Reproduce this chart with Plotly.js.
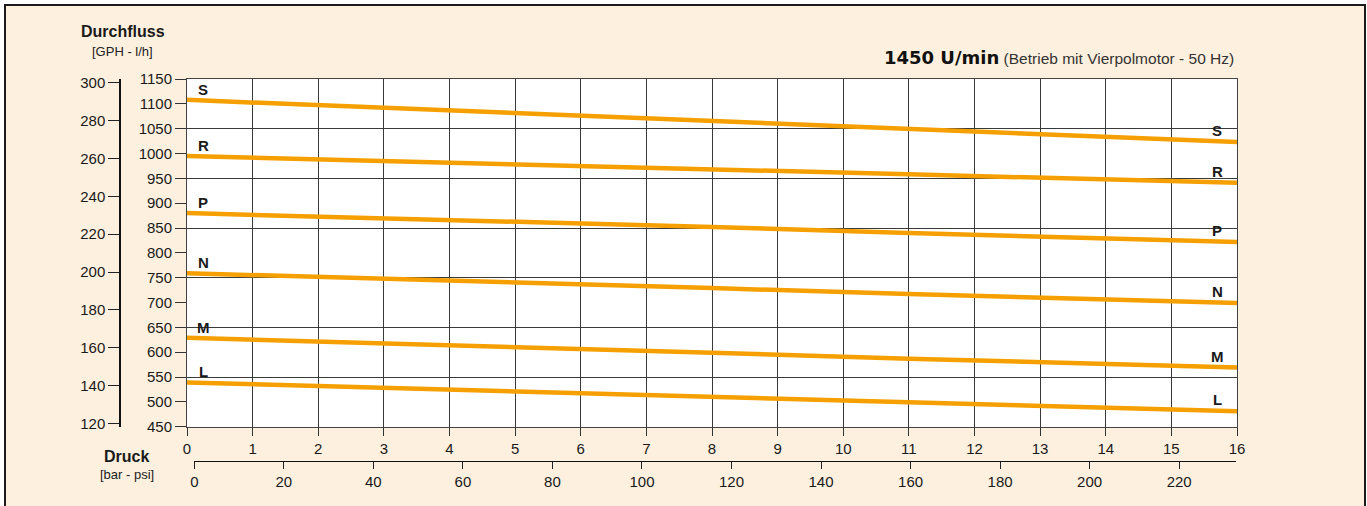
<!DOCTYPE html>
<html>
<head>
<meta charset="utf-8">
<script src="https://cdn.plot.ly/plotly-3.0.1.min.js"></script>
<style>
  html, body { margin:0; padding:0; background:#ffffff; width:1367px; height:506px; overflow:hidden; }
  #frame { position:absolute; left:4px; top:4px; width:1362px; height:600px; box-sizing:border-box;
           border:2px solid #1a1a1a; border-bottom:none; background:#FEF0DE; }
  #chart { position:absolute; left:0; top:0; width:1367px; height:506px; }
</style>
</head>
<body>
<div id="frame"></div>
<div id="chart"></div>
<script>
// ---- data ----
const pressureBar = [0, 5, 8, 11, 16];
const seriesNames = ["S", "R", "P", "N", "M", "L"];
const flowS = [1108, 1081, 1065, 1049, 1023];
const flowR = [995, 979, 969, 958, 941];
const flowP = [880, 863, 852, 840, 822];
const flowN = [759, 741, 729, 717, 699];
const flowM = [629, 611, 599, 587, 569];
const flowL = [539, 521, 510, 498, 481];
const seriesValues = [flowS, flowR, flowP, flowN, flowM, flowL];

const lhTicks = [450, 500, 550, 600, 650, 700, 750, 800, 850, 900, 950, 1000, 1050, 1100, 1150];
const lhGrid = [450, 550, 650, 750, 850, 950, 1050, 1150];
const gphTicks = [120, 140, 160, 180, 200, 220, 240, 260, 280, 300];
const barTicks = [0, 1, 2, 3, 4, 5, 6, 7, 8, 9, 10, 11, 12, 13, 14, 15, 16];
const psiTicks = [0, 20, 40, 60, 80, 100, 120, 140, 160, 180, 200, 220];

const titleBold = "1450 U/min";
const titleRest = "(Betrieb mit Vierpolmotor - 50 Hz)";
const yTitle = "Durchfluss";
const yUnits = "[GPH - l/h]";
const xTitle = "Druck";
const xUnits = "[bar - psi]";

// ---- styles ----
const FONT = "Liberation Sans, Arial, sans-serif";
const LINE_COLOR = "#F5A000";
const INK = "#1a1a1a";

const traces = seriesValues.map((vals, i) => ({
  type: "scatter", mode: "lines", name: seriesNames[i],
  x: pressureBar, y: vals, xaxis: "x", yaxis: "y",
  line: { color: LINE_COLOR, width: 4.5 },
  hoverinfo: "skip", showlegend: false
}));
// empty helper traces so that the extra axes get drawn
traces.push({ type: "scatter", mode: "lines", x: [], y: [], xaxis: "x", yaxis: "y3", showlegend: false, hoverinfo: "skip" });
traces.push({ type: "scatter", mode: "lines", x: [], y: [], xaxis: "x", yaxis: "y2", showlegend: false, hoverinfo: "skip" });
traces.push({ type: "scatter", mode: "lines", x: [], y: [], xaxis: "x2", yaxis: "y", showlegend: false, hoverinfo: "skip" });

const annotations = [];
seriesValues.forEach((vals, i) => {
  const n = vals.length;
  const xl = 0.25;
  const yl = vals[0] + (vals[1] - vals[0]) * (xl - pressureBar[0]) / (pressureBar[1] - pressureBar[0]);
  annotations.push({ x: xl, y: yl, xref: "x", yref: "y", text: "<b>" + seriesNames[i] + "</b>",
    showarrow: false, xanchor: "center", yanchor: "middle", yshift: 11,
    font: { family: FONT, size: 15, color: INK } });
  const xr = 15.7;
  const yr = vals[n - 2] + (vals[n - 1] - vals[n - 2]) * (xr - pressureBar[n - 2]) / (pressureBar[n - 1] - pressureBar[n - 2]);
  annotations.push({ x: xr, y: yr, xref: "x", yref: "y", text: "<b>" + seriesNames[i] + "</b>",
    showarrow: false, xanchor: "center", yanchor: "middle", yshift: 11,
    font: { family: FONT, size: 15, color: INK } });
});

annotations.push({
  x: 1, y: 1, xref: "paper", yref: "paper", xanchor: "right", yanchor: "middle", yshift: 22, xshift: -1,
  showarrow: false,
  text: '<span style="font-family:DejaVu Sans;font-weight:bold;font-size:18px;color:#111">' + titleBold + '</span> ' +
        '<span style="font-size:15.5px;color:#333">' + titleRest + '</span>',
  font: { family: FONT, size: 15.5, color: "#333" }
});
annotations.push({ x: 0, y: 1, xref: "paper", yref: "paper", xanchor: "center", yanchor: "middle",
  xshift: 22.5, yshift: 48, showarrow: false, text: "<b>" + yTitle + "</b>",
  font: { family: FONT, size: 16, color: INK } });
annotations.push({ x: 0, y: 1, xref: "paper", yref: "paper", xanchor: "center", yanchor: "middle",
  xshift: 22.5, yshift: 28, showarrow: false, text: yUnits,
  font: { family: FONT, size: 13, color: "#222" } });
annotations.push({ x: 0, y: 0, xref: "paper", yref: "paper", xanchor: "center", yanchor: "middle",
  xshift: 26.7, yshift: 9.5, showarrow: false, text: "<b>" + xTitle + "</b>",
  font: { family: FONT, size: 16, color: INK } });
annotations.push({ x: 0, y: 0, xref: "paper", yref: "paper", xanchor: "center", yanchor: "middle",
  xshift: 26.7, yshift: -8, showarrow: false, text: xUnits,
  font: { family: FONT, size: 13, color: "#222" } });

const tickFont = { family: FONT, size: 15, color: INK };
const yDomain = [0.1016, 1];

const layout = {
  width: 1367, height: 506,
  margin: { l: 100, r: 130, t: 79, b: 40, pad: 0 },
  paper_bgcolor: "rgba(0,0,0,0)",
  plot_bgcolor: "rgba(0,0,0,0)",
  showlegend: false,
  shapes: [{
    type: "rect", xref: "x domain", yref: "y domain", x0: 0, x1: 1, y0: 0, y1: 1,
    fillcolor: "#ffffff", line: { width: 0 }, layer: "below"
  }],
  xaxis: {
    domain: [0.07652, 1], range: [0, 16], anchor: "y",
    tickvals: barTicks, ticktext: barTicks.map(String),
    ticks: "outside", ticklen: 8, tickcolor: "#333", tickwidth: 1,
    showgrid: true, gridcolor: "#3a3a3a", gridwidth: 1,
    showline: true, mirror: true, linecolor: "#444", linewidth: 1,
    zeroline: false, tickfont: tickFont, fixedrange: true
  },
  yaxis: {
    domain: yDomain, range: [450, 1150], anchor: "x",
    tickvals: lhTicks, ticktext: lhTicks.map(String),
    ticks: "outside", ticklen: 11, tickcolor: "#333", tickwidth: 1,
    showgrid: false, showline: true, mirror: true, linecolor: "#444", linewidth: 1,
    zeroline: false, tickfont: tickFont, fixedrange: true
  },
  yaxis3: {
    overlaying: "y", anchor: "x", side: "right", range: [450, 1150],
    tickvals: lhGrid, showticklabels: false, ticks: "",
    showgrid: true, gridcolor: "#3a3a3a", gridwidth: 1,
    showline: false, zeroline: false, fixedrange: true
  },
  yaxis2: {
    overlaying: "y", anchor: "free", position: 0.01697, side: "left", range: [118.2, 302.1],
    tickvals: gphTicks, ticktext: gphTicks.map(String),
    ticks: "outside", ticklen: 11, tickcolor: "#222", tickwidth: 1,
    showgrid: false, showline: true, linecolor: "#111", linewidth: 1.3,
    zeroline: false, tickfont: tickFont, fixedrange: true
  },
  xaxis2: {
    anchor: "free", position: 0.0137, domain: [0.08294, 0.99912], range: [0, 232.7],
    tickvals: psiTicks, ticktext: psiTicks.map(String),
    ticks: "outside", ticklen: 7, tickcolor: "#222", tickwidth: 1,
    showgrid: false, showline: true, linecolor: "#111", linewidth: 1.3,
    zeroline: false, tickfont: tickFont, fixedrange: true
  },
  annotations: annotations
};

Plotly.newPlot("chart", traces, layout, { staticPlot: true, displayModeBar: false });
</script>
</body>
</html>
